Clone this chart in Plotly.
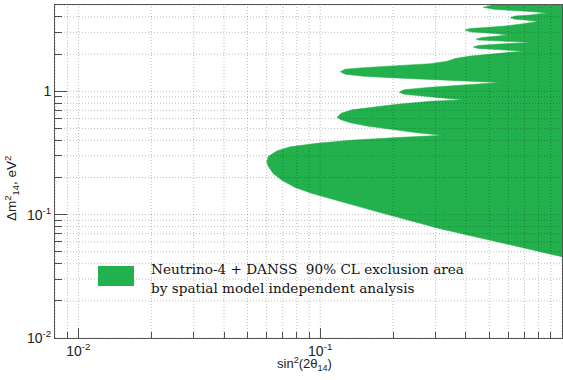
import plotly.graph_objects as go

# Boundary of the Neutrino-4 + DANSS 90% CL exclusion area (sin^2(2θ14), Δm^2_14 [eV^2]),
# traced from the lower edge of the big lobe upward through the oscillation lobes.
sin2_boundary = [
    1.0, 0.554, 0.313, 0.177, 0.121, 0.0927, 0.0788, 0.0697, 0.0639, 0.0610, 0.0601,
    0.0610, 0.0661, 0.0752, 0.0969, 0.133, 0.200, 0.318,
    0.251, 0.200, 0.156, 0.133, 0.122, 0.1175,
    0.122, 0.1356, 0.169, 0.208, 0.285, 0.390,
    0.313, 0.252, 0.2225, 0.212,
    0.2225, 0.285, 0.417, 0.554,
    0.417, 0.285, 0.1947, 0.1506, 0.1269, 0.121,
    0.1269, 0.1506, 0.208, 0.285, 0.335, 0.361, 0.417, 0.528, 0.690,
    0.581, 0.494, 0.450, 0.429,
    0.450, 0.528, 0.627, 0.752,
    0.610, 0.504, 0.454, 0.441,
    0.467, 0.528, 0.598,
    0.528, 0.458, 0.417, 0.397,
    0.417, 0.481, 0.581, 0.703, 0.796,
    0.703, 0.639, 0.610,
    0.639, 0.738, 0.867,
    0.738, 0.610, 0.528, 0.472,
    0.504, 0.544, 1.0,
]
dm2_boundary = [
    0.0455, 0.0592, 0.0769, 0.1038, 0.1275, 0.1482, 0.1658, 0.189, 0.2154, 0.2456, 0.267,
    0.296, 0.328, 0.355, 0.378, 0.400, 0.420, 0.439,
    0.461, 0.491, 0.522, 0.556, 0.587, 0.615,
    0.663, 0.707, 0.748, 0.784, 0.829, 0.853,
    0.886, 0.919, 0.945, 0.981,
    1.029, 1.078, 1.140, 1.177,
    1.206, 1.240, 1.288, 1.324, 1.374, 1.440,
    1.510, 1.553, 1.612, 1.673, 1.753, 1.838, 1.926, 2.018, 2.114,
    2.154, 2.183, 2.224, 2.279,
    2.344, 2.402, 2.447, 2.488,
    2.526, 2.559, 2.598, 2.647,
    2.723, 2.785, 2.863,
    2.934, 2.984, 3.029, 3.132,
    3.222, 3.283, 3.377, 3.538, 3.673,
    3.778, 3.835, 3.944,
    4.072, 4.149, 4.307,
    4.430, 4.514, 4.599, 4.792,
    4.956, 5.145, 5.3,
]

# Axis ticks
x_major = [0.01, 0.1, 1]
x_major_text = ["10<sup>-2</sup>", "10<sup>-1</sup>", "1"]
y_major = [0.01, 0.1, 1]
y_major_text = ["10<sup>-2</sup>", "10<sup>-1</sup>", "1"]
x_minor = [0.008, 0.009] + [k * 0.01 for k in range(2, 10)] + [k * 0.1 for k in range(2, 10)]
y_minor = [k * 0.01 for k in range(2, 10)] + [k * 0.1 for k in range(2, 10)] + [2, 3, 4, 5]

legend_line1 = "Neutrino-4 + DANSS  90% CL exclusion area"
legend_line2 = "by spatial model independent analysis"

GREEN = "#22b14c"
AXIS = "#555555"
GRID = "rgba(0,0,0,0.26)"
TICK_FONT = dict(family="Liberation Sans, Arial, sans-serif", size=14, color="#222222")

fig = go.Figure()
fig.add_trace(go.Scatter(
    x=sin2_boundary, y=dm2_boundary,
    mode="lines", fill="toself",
    fillcolor=GREEN, line=dict(color=GREEN, width=0.5),
    hoverinfo="skip", showlegend=False,
))

# Fine dotted grid on every decade subdivision, drawn over the filled area
shapes = []
for xv in sorted(set(x_major + x_minor)):
    shapes.append(dict(type="line", xref="x", yref="paper", x0=xv, x1=xv, y0=0, y1=1,
                       line=dict(color=GRID, width=1, dash="1px,2px"), layer="above"))
for yv in sorted(set(y_major + y_minor)):
    shapes.append(dict(type="line", xref="paper", yref="y", x0=0, x1=1, y0=yv, y1=yv,
                       line=dict(color=GRID, width=1, dash="1px,2px"), layer="above"))

# Legend swatch
shapes.append(dict(type="rect", xref="paper", yref="paper",
                   x0=0.0848, x1=0.1558, y0=0.156, y1=0.216,
                   fillcolor=GREEN, line=dict(width=0), layer="above"))

legend_font = dict(family="DejaVu Serif, serif", size=13.6, color="#111111")
annotations = [
    dict(text=legend_line1, xref="paper", yref="paper", x=0.186, y=0.207,
         xanchor="left", yanchor="middle", showarrow=False, font=legend_font),
    dict(text=legend_line2, xref="paper", yref="paper", x=0.186, y=0.150,
         xanchor="left", yanchor="middle", showarrow=False, font=legend_font),
    dict(text="sin<sup>2</sup>(2θ<sub>14</sub>)", xref="paper", yref="paper",
         x=0.493, y=-0.079, xanchor="center", yanchor="middle", showarrow=False,
         font=dict(family="Liberation Sans, Arial, sans-serif", size=13, color="#222222")),
    dict(text="Δm<sup>2</sup><sub>14</sub>, eV<sup>2</sup>", xref="paper", yref="paper",
         x=-0.085, y=0.45, xanchor="center", yanchor="middle", showarrow=False, textangle=-90,
         font=dict(family="Liberation Sans, Arial, sans-serif", size=13.5, color="#222222")),
]

fig.update_layout(
    width=563, height=380,
    margin=dict(l=55, r=1, t=5, b=42),
    paper_bgcolor="white", plot_bgcolor="white",
    shapes=shapes, annotations=annotations,
    showlegend=False,
)
fig.update_xaxes(
    type="log", range=[-2.0969, 0.0],
    tickvals=x_major, ticktext=x_major_text, tickfont=TICK_FONT,
    ticks="inside", ticklen=10, tickcolor=AXIS, tickwidth=1,
    minor=dict(tickvals=x_minor, ticks="inside", ticklen=6, tickcolor=AXIS, showgrid=False),
    showgrid=False, zeroline=False,
    showline=True, linecolor=AXIS, linewidth=1, mirror=True,
)
fig.update_yaxes(
    type="log", range=[-2.0, 0.69897],
    tickvals=y_major, ticktext=y_major_text, tickfont=TICK_FONT,
    ticks="inside", ticklen=12, tickcolor=AXIS, tickwidth=1,
    minor=dict(tickvals=y_minor, ticks="inside", ticklen=7, tickcolor=AXIS, showgrid=False),
    showgrid=False, zeroline=False,
    showline=True, linecolor=AXIS, linewidth=1, mirror=True,
)

fig.write_html("out.html")
